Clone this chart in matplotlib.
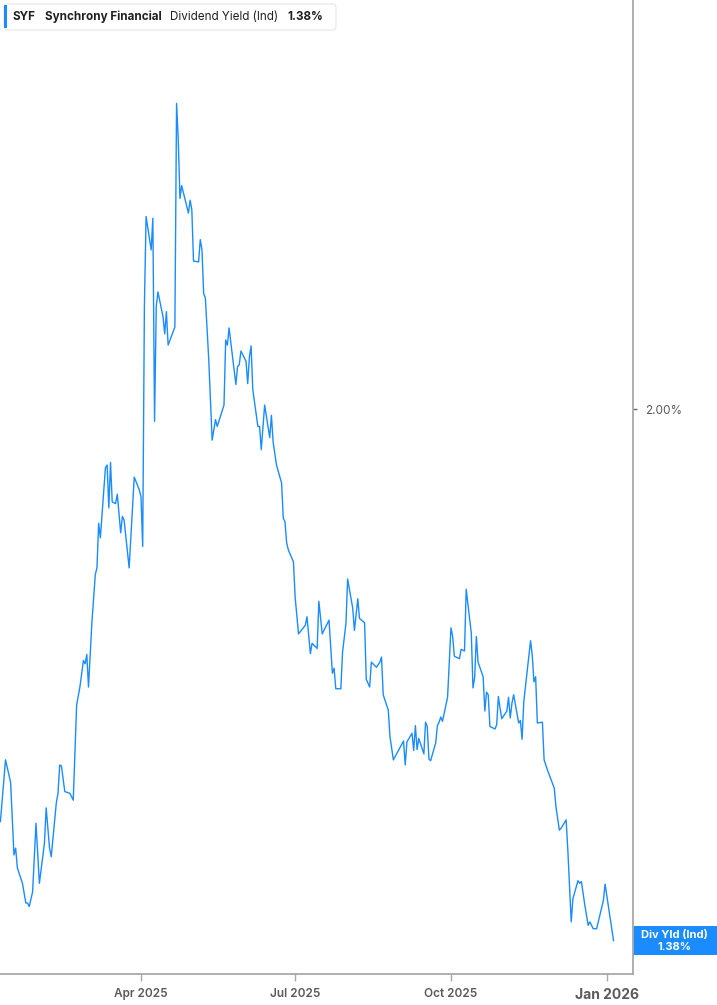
"""
SYF dividend yield (indicated) chart, 2025.
"""

import pandas as pd
import matplotlib
matplotlib.use("Agg")
import matplotlib.pyplot as plt
import matplotlib.transforms as mtransforms
from matplotlib.patches import Rectangle, FancyBboxPatch

plt.rcParams['font.family'] = ['Inter', 'DejaVu Sans']

ticker = "SYF"
company = "Synchrony Financial"
metric = "Dividend Yield (Ind)"
last_label = "1.38%"

dates = [
    "2025-01-08", "2025-01-11", "2025-01-14", "2025-01-16", "2025-01-17", "2025-01-18",
    "2025-01-21", "2025-01-23", "2025-01-24", "2025-01-25", "2025-01-27", "2025-01-29",
    "2025-01-31", "2025-02-03", "2025-02-04", "2025-02-06", "2025-02-07", "2025-02-10",
    "2025-02-11", "2025-02-12", "2025-02-13", "2025-02-15", "2025-02-18", "2025-02-20",
    "2025-02-22", "2025-02-24", "2025-02-26", "2025-02-27", "2025-02-28", "2025-03-01",
    "2025-03-03", "2025-03-05", "2025-03-06", "2025-03-07", "2025-03-08", "2025-03-11",
    "2025-03-12", "2025-03-13", "2025-03-14", "2025-03-15", "2025-03-17", "2025-03-18",
    "2025-03-20", "2025-03-21", "2025-03-22", "2025-03-25", "2025-03-28", "2025-03-31",
    "2025-04-01", "2025-04-02", "2025-04-03", "2025-04-04", "2025-04-07", "2025-04-08",
    "2025-04-09", "2025-04-10", "2025-04-11", "2025-04-14", "2025-04-15", "2025-04-16",
    "2025-04-17", "2025-04-21", "2025-04-22", "2025-04-23", "2025-04-24", "2025-04-25",
    "2025-04-29", "2025-04-30", "2025-05-01", "2025-05-02", "2025-05-05", "2025-05-06",
    "2025-05-07", "2025-05-08", "2025-05-09", "2025-05-11", "2025-05-13", "2025-05-15",
    "2025-05-16", "2025-05-20", "2025-05-21", "2025-05-22", "2025-05-23", "2025-05-27",
    "2025-05-28", "2025-05-29", "2025-05-30", "2025-06-02", "2025-06-03", "2025-06-04",
    "2025-06-05", "2025-06-06", "2025-06-09", "2025-06-10", "2025-06-11", "2025-06-13",
    "2025-06-16", "2025-06-17", "2025-06-18", "2025-06-20", "2025-06-23", "2025-06-24",
    "2025-06-25", "2025-06-26", "2025-06-27", "2025-06-30", "2025-07-01", "2025-07-03",
    "2025-07-07", "2025-07-08", "2025-07-10", "2025-07-11", "2025-07-14", "2025-07-15",
    "2025-07-17", "2025-07-21", "2025-07-23", "2025-07-24", "2025-07-25", "2025-07-28",
    "2025-07-29", "2025-07-31", "2025-08-01", "2025-08-04", "2025-08-05", "2025-08-07",
    "2025-08-08", "2025-08-11", "2025-08-12", "2025-08-14", "2025-08-15", "2025-08-18",
    "2025-08-20", "2025-08-21", "2025-08-22", "2025-08-25", "2025-08-26", "2025-08-28",
    "2025-09-03", "2025-09-04", "2025-09-05", "2025-09-08", "2025-09-09", "2025-09-10",
    "2025-09-11", "2025-09-12", "2025-09-15", "2025-09-16", "2025-09-17", "2025-09-18",
    "2025-09-19", "2025-09-22", "2025-09-23", "2025-09-24", "2025-09-25", "2025-09-26",
    "2025-09-29", "2025-10-01", "2025-10-02", "2025-10-03", "2025-10-06", "2025-10-07",
    "2025-10-09", "2025-10-10", "2025-10-13", "2025-10-14", "2025-10-15", "2025-10-16",
    "2025-10-17", "2025-10-20", "2025-10-21", "2025-10-22", "2025-10-23", "2025-10-24",
    "2025-10-27", "2025-10-28", "2025-10-29", "2025-10-30", "2025-10-31", "2025-11-03",
    "2025-11-04", "2025-11-05", "2025-11-06", "2025-11-07", "2025-11-10", "2025-11-11",
    "2025-11-12", "2025-11-13", "2025-11-17", "2025-11-18", "2025-11-19", "2025-11-20",
    "2025-11-21", "2025-11-24", "2025-11-25", "2025-11-27", "2025-12-01", "2025-12-02",
    "2025-12-04", "2025-12-05", "2025-12-08", "2025-12-09", "2025-12-11", "2025-12-12",
    "2025-12-15", "2025-12-16", "2025-12-17", "2025-12-19", "2025-12-21", "2025-12-22",
    "2025-12-24", "2025-12-26", "2025-12-30", "2025-12-31", "2026-01-05",
]

div_yield = [
    1.519, 1.591, 1.565, 1.480, 1.488, 1.465,
    1.447, 1.424, 1.424, 1.420, 1.437, 1.517,
    1.447, 1.494, 1.535, 1.488, 1.478, 1.541,
    1.552, 1.585, 1.584, 1.554, 1.552, 1.544,
    1.655, 1.677, 1.707, 1.703, 1.714, 1.676,
    1.751, 1.807, 1.815, 1.867, 1.850, 1.932,
    1.935, 1.885, 1.938, 1.892, 1.890, 1.901,
    1.856, 1.875, 1.871, 1.815, 1.921, 1.906,
    1.898, 1.840, 2.120, 2.225, 2.186, 2.223,
    1.986, 2.120, 2.137, 2.108, 2.088, 2.114,
    2.075, 2.096, 2.357, 2.314, 2.246, 2.261,
    2.229, 2.244, 2.233, 2.173, 2.172, 2.198,
    2.186, 2.135, 2.130, 2.058, 1.964, 1.988,
    1.980, 2.005, 2.081, 2.075, 2.095, 2.029,
    2.050, 2.052, 2.068, 2.056, 2.030, 2.061,
    2.074, 2.023, 1.980, 1.980, 1.953, 2.005,
    1.967, 1.993, 1.962, 1.935, 1.914, 1.873,
    1.869, 1.844, 1.836, 1.822, 1.781, 1.738,
    1.748, 1.758, 1.715, 1.727, 1.721, 1.776,
    1.738, 1.754, 1.692, 1.698, 1.674, 1.674,
    1.717, 1.750, 1.802, 1.768, 1.742, 1.779,
    1.756, 1.751, 1.685, 1.676, 1.705, 1.699,
    1.705, 1.711, 1.667, 1.649, 1.618, 1.591,
    1.613, 1.585, 1.612, 1.622, 1.602, 1.631,
    1.603, 1.616, 1.598, 1.635, 1.630, 1.592,
    1.590, 1.611, 1.631, 1.635, 1.641, 1.636,
    1.664, 1.745, 1.735, 1.712, 1.709, 1.720,
    1.718, 1.790, 1.739, 1.675, 1.687, 1.735,
    1.705, 1.688, 1.648, 1.670, 1.667, 1.630,
    1.627, 1.632, 1.665, 1.651, 1.639, 1.648,
    1.664, 1.640, 1.657, 1.667, 1.634, 1.637,
    1.615, 1.659, 1.730, 1.713, 1.682, 1.688,
    1.634, 1.635, 1.591, 1.579, 1.558, 1.536,
    1.509, 1.511, 1.521, 1.486, 1.402, 1.429,
    1.450, 1.447, 1.449, 1.422, 1.398, 1.402,
    1.394, 1.394, 1.427, 1.446, 1.380,
]

tick_dates = ["2025-04-01", "2025-07-01", "2025-10-01", "2026-01-01"]
tick_labels = ["Apr 2025", "Jul 2025", "Oct 2025", "Jan 2026"]
y_ticks = [2.00]

line_color = "#1a8cff"
axis_color = "#a8a8a8"
label_color = "#5a5a5a"

df = pd.DataFrame({"date": pd.to_datetime(dates), "yield": div_yield})

fig = plt.figure(figsize=(7.17, 10.05), dpi=100)
ax = fig.add_axes([0.0, 0.0308, 0.8822, 0.9692])

ax.plot(df["date"], df["yield"], color=line_color, linewidth=1.0)

ax.set_xlim(pd.Timestamp("2025-01-07 18:00"), pd.Timestamp("2026-01-16 05:00"))
ax.set_ylim(1.3411, 2.4776)

for s in ["left", "top"]:
    ax.spines[s].set_visible(False)
for s in ["right", "bottom"]:
    ax.spines[s].set_color(axis_color)
    ax.spines[s].set_linewidth(1.3)

ax.yaxis.tick_right()
ax.set_yticks(y_ticks)
ax.set_yticklabels([f"{v:.2f}%" for v in y_ticks])
ax.tick_params(axis="y", length=3, width=1, color="#666666", pad=6,
               labelsize=8.5, labelcolor=label_color)

ax.set_xticks(pd.to_datetime(tick_dates))
ax.set_xticklabels(tick_labels)
ax.tick_params(axis="x", length=5, width=1, color=axis_color, pad=5,
               labelsize=8.5, labelcolor=label_color)
xl = ax.get_xticklabels()
for t in xl:
    t.set_fontweight("semibold")
xl[-1].set_fontsize(10)
xl[-1].set_fontweight("bold")

# last value tag on the right axis
trans = mtransforms.blended_transform_factory(ax.transAxes, ax.transData)
last = div_yield[-1]
ax.add_patch(Rectangle((1.0, last - 0.0172), 0.14, 0.0344, transform=trans,
                       facecolor=line_color, edgecolor="none", clip_on=False))
ax.text(1.067, last + 0.0068, "Div Yld (Ind)", transform=trans, ha="center", va="center",
        color="white", fontsize=8, fontweight="bold")
ax.text(1.067, last - 0.0068, last_label, transform=trans, ha="center", va="center",
        color="white", fontsize=8, fontweight="bold")

# header legend box
fig.patches.append(FancyBboxPatch((0.0056, 0.9701), 0.463, 0.0259,
                                  boxstyle="round,pad=0,rounding_size=0.004",
                                  transform=fig.transFigure, facecolor="white",
                                  edgecolor="#e6e6e6", linewidth=0.8))
fig.patches.append(Rectangle((0.0056, 0.9721), 0.0042, 0.0229, transform=fig.transFigure,
                             facecolor=line_color, edgecolor="none"))
hy = 0.9831
hsize = 8.4
fig.text(0.0181, hy, ticker, ha="left", va="center", fontsize=hsize, fontweight="bold", color="#1f1f1f")
fig.text(0.0628, hy, company, ha="left", va="center", fontsize=hsize, fontweight="bold", color="#1f1f1f")
fig.text(0.2371, hy, metric, ha="left", va="center", fontsize=hsize, color="#1f1f1f")
fig.text(0.4003, hy, last_label, ha="left", va="center", fontsize=hsize, fontweight="bold", color="#1f1f1f")

fig.savefig("out.png", dpi=100)
